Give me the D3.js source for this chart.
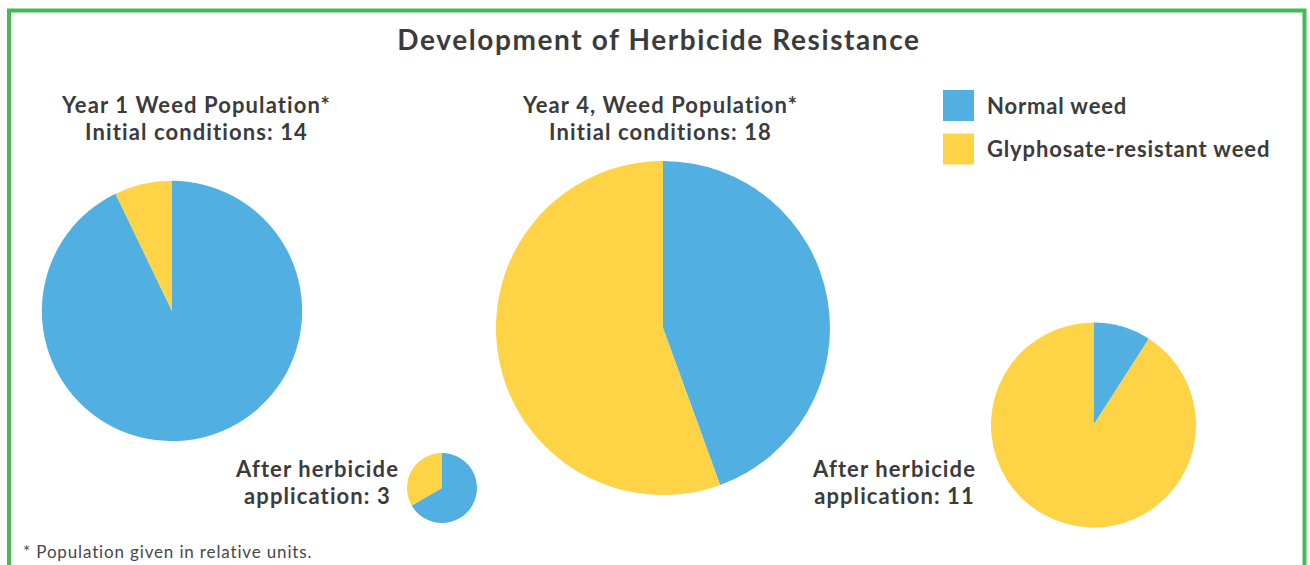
<!DOCTYPE html>
<html>
<head>
<meta charset="utf-8">
<script src="https://cdn.jsdelivr.net/npm/d3@7"></script>
<style>
  body { margin: 0; background: #fff; }
  text { font-family: Lato, "Open Sans", sans-serif; fill: #3b3b3b; }
</style>
</head>
<body>
<svg id="chart"></svg>
<script>
// Data
const seriesNames = ["Normal weed", "Glyphosate-resistant weed"];
const normalWeed = [13, 2, 8, 1];
const resistantWeed = [1, 1, 10, 10];
const panelLabels = [
    ["Year 1 Weed Population*", "Initial conditions: 14"],
    ["After herbicide", "application: 3"],
    ["Year 4, Weed Population*", "Initial conditions: 18"],
    ["After herbicide", "application: 11"]
];
const colors = ["#52afe2", "#fed345"];

const width = 1310;
const height = 565;
const svg = d3.select("#chart")
    .attr("width", width)
    .attr("height", height);

// green frame
svg.append("rect")
    .attr("x", 9).attr("y", 10.5)
    .attr("width", 1295.5).attr("height", 570)
    .attr("fill", "none")
    .attr("stroke", "#46b954")
    .attr("stroke-width", 4);

svg.append("text")
    .attr("x", 659).attr("y", 50)
    .attr("text-anchor", "middle")
    .style("font-size", "28px")
    .style("font-weight", 700)
    .style("letter-spacing", "1.6px")
    .text("Development of Herbicide Resistance");

// layout for each pie: center and label anchor
const layout = [
    { cx: 172, cy: 311, lx: 196.5, ly: 113 },
    { cx: 442, cy: 488, lx: 317.5, ly: 477 },
    { cx: 663, cy: 328, lx: 660.5, ly: 113 },
    { cx: 1093.5, cy: 425, lx: 894.5, ly: 477 }
];

// radius by total population
const rScale = d3.scaleLinear().domain([3, 11, 18]).range([35, 102.5, 167]);
const pie = d3.pie().sort(null);

normalWeed.forEach((n, i) => {
    const vals = [n, resistantWeed[i]];
    const total = d3.sum(vals);
    const r = rScale(total);
    const arc = d3.arc().innerRadius(0).outerRadius(r);
    const g = svg.append("g")
        .attr("transform", `translate(${layout[i].cx},${layout[i].cy})`);
    g.selectAll("path")
        .data(pie(vals))
        .enter()
        .append("path")
        .attr("d", arc)
        .attr("fill", (d, j) => colors[j]);

    svg.append("text")
        .attr("x", layout[i].lx)
        .attr("y", layout[i].ly)
        .attr("text-anchor", "middle")
        .style("font-size", "22px")
        .style("font-weight", 700)
        .style("letter-spacing", "1.1px")
        .selectAll("tspan")
        .data(panelLabels[i])
        .enter()
        .append("tspan")
        .attr("x", layout[i].lx)
        .attr("dy", (d, j) => j === 0 ? 0 : 26.5)
        .text(d => d);
});

// legend
const legend = svg.append("g").attr("transform", "translate(943,90)");
seriesNames.forEach((name, i) => {
    legend.append("rect")
        .attr("x", 0).attr("y", i * 43.5)
        .attr("width", 31).attr("height", 31)
        .attr("fill", colors[i]);
    legend.append("text")
        .attr("x", 44).attr("y", i * 43.5 + 23.5)
        .style("font-size", "22px")
        .style("font-weight", 700)
        .style("letter-spacing", "0.85px")
        .text(name);
});

svg.append("text")
    .attr("x", 23).attr("y", 557.5)
    .style("font-size", "17px")
    .style("letter-spacing", "0.85px")
    .style("fill", "#474747")
    .text("* Population given in relative units.");
</script>
</body>
</html>
